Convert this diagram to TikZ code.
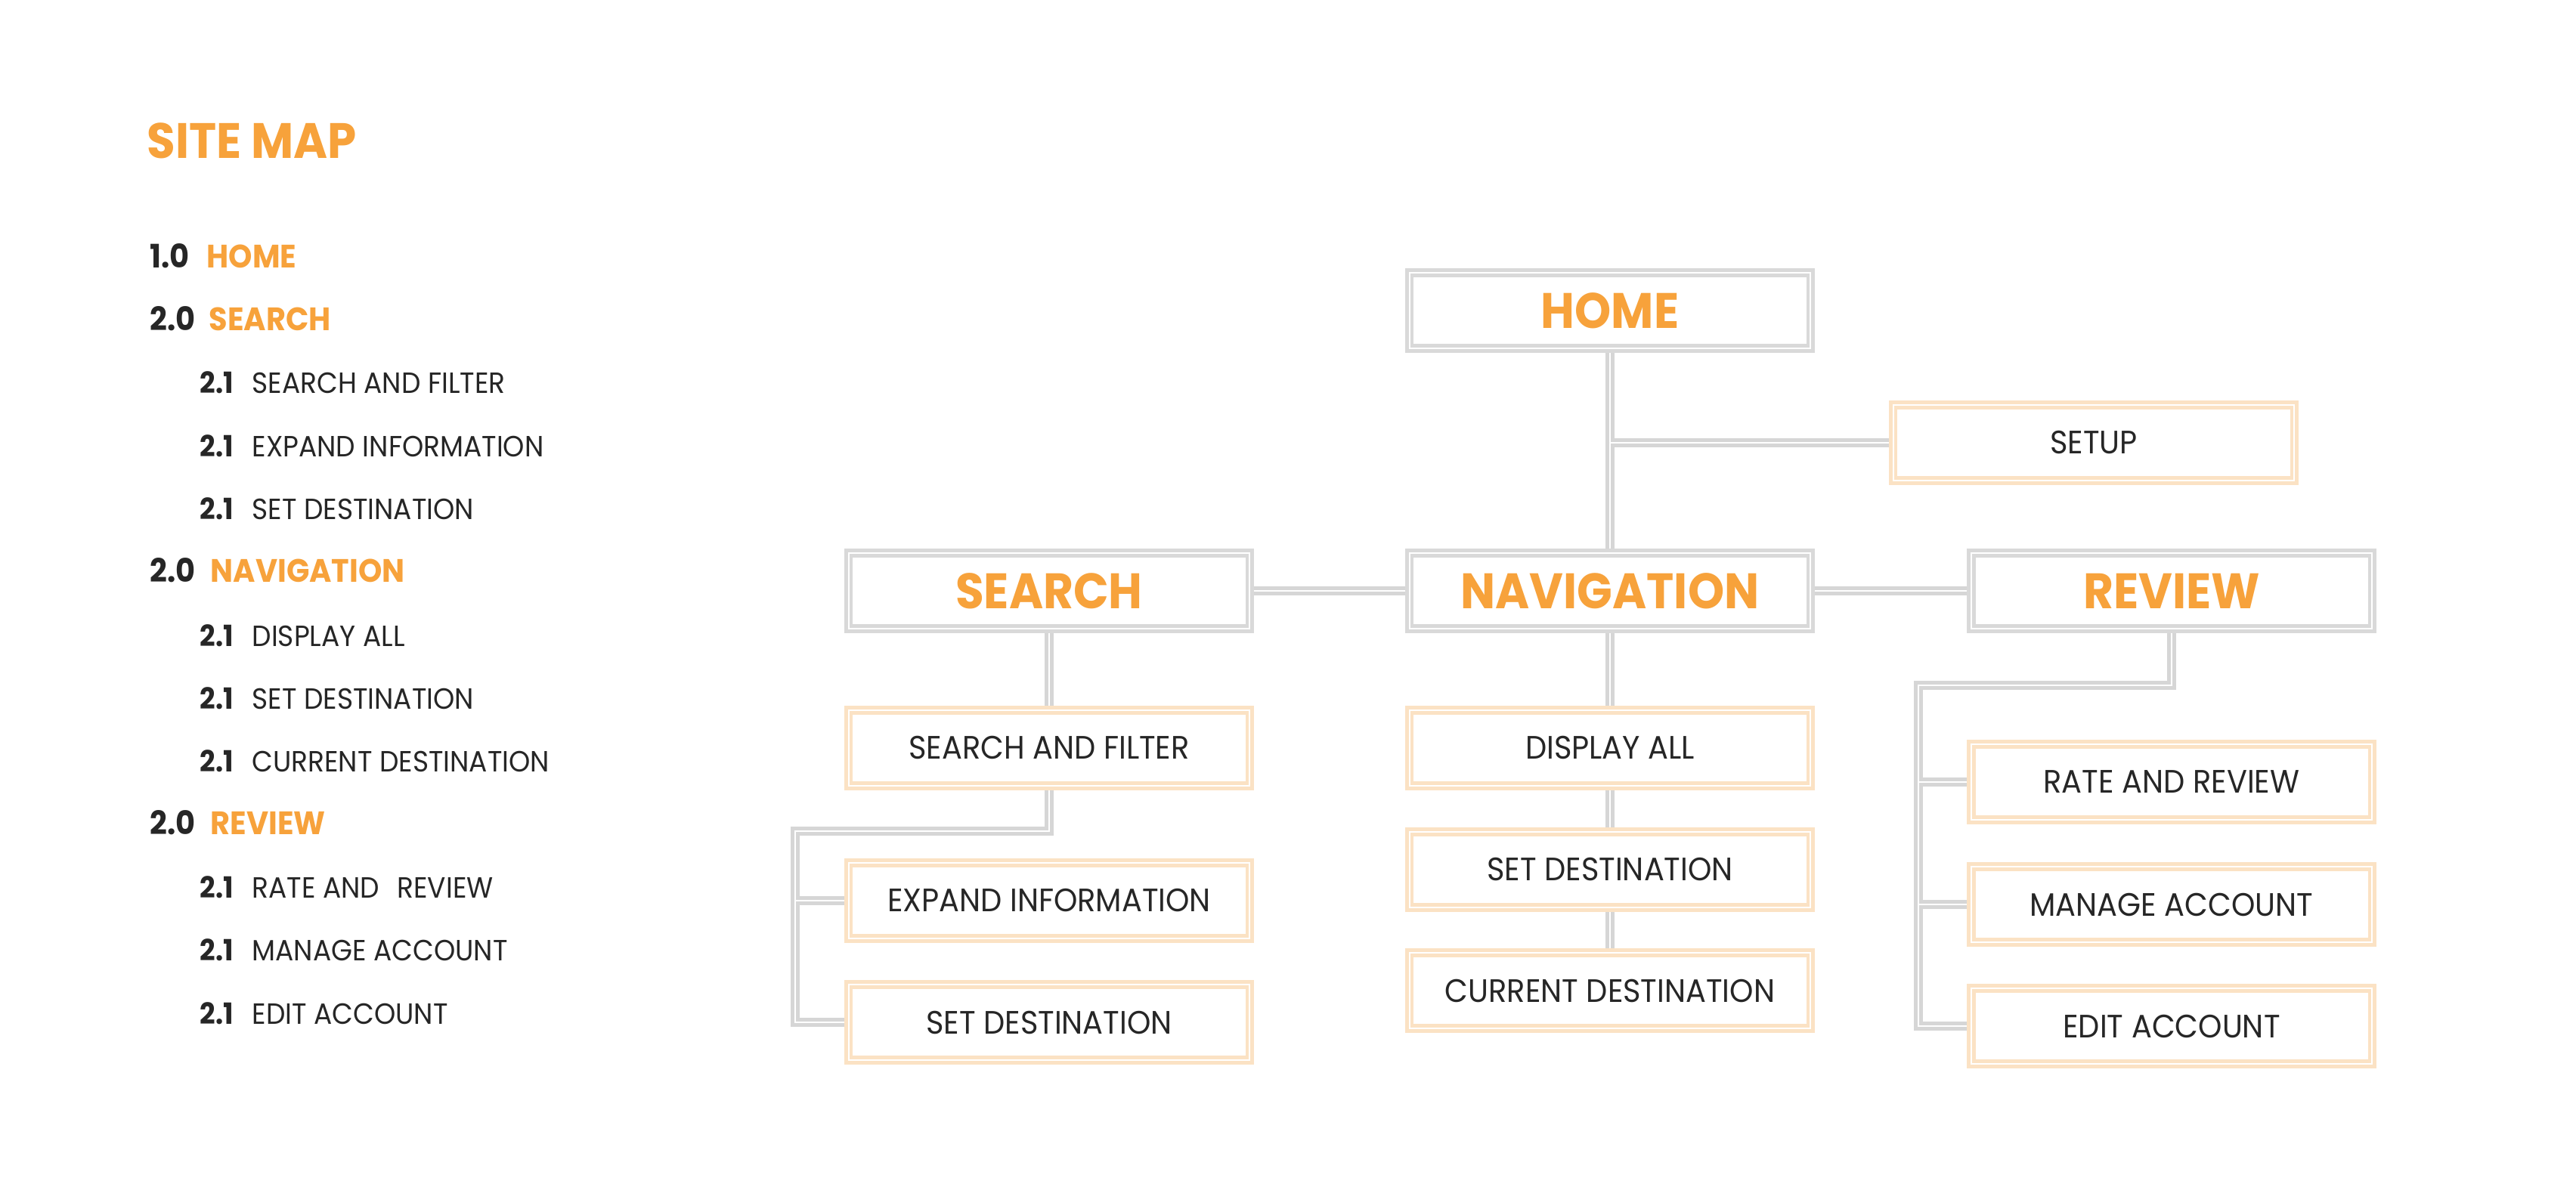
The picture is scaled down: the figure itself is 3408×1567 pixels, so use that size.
\documentclass[tikz,border=0pt]{standalone}
\usepackage{fontspec}
\setmainfont{Poppins}[FakeStretch=0.93]
\usetikzlibrary{backgrounds}
\definecolor{org}{HTML}{F7A23B}
\definecolor{ink}{HTML}{262626}
\definecolor{peach}{HTML}{FBE2C4}
\tikzset{
  mainbox/.style={draw=black!15, double=white, double distance=0.6pt, line width=1.3pt,
    fill=white, minimum width=5.3cm, minimum height=1.0cm, inner sep=0pt,
    text=org, font=\fontsize{18.75}{20}\selectfont\bfseries},
  subbox/.style={draw=peach, double=white, double distance=0.6pt, line width=1.3pt,
    fill=white, minimum width=5.3cm, minimum height=1.0cm, inner sep=0pt,
    text=ink, font=\fontsize{12.2}{14}\selectfont},
  wireout/.style={draw=black!16, line width=3.2pt},
  wirein/.style={draw=white, line width=0.8pt},
  num/.style={anchor=base west, inner sep=0pt, text=ink, font=\fontsize{12.2}{14}\selectfont\bfseries},
  head/.style={anchor=base west, inner sep=0pt, text=org, font=\fontsize{12.2}{14}\selectfont\bfseries},
  subnum/.style={anchor=base west, inner sep=0pt, text=ink, font=\fontsize{11}{12}\selectfont\bfseries},
  subtxt/.style={anchor=base west, inner sep=0pt, text=ink, font=\fontsize{11}{12}\selectfont},
}
\newcommand{\wires}[1]{%
  \draw[#1] (home.south) -- (nav.north);
  \draw[#1] (home.south |- setup.west) -- (setup.west);
  \draw[#1] (search.east) -- (nav.west);
  \draw[#1] (nav.east) -- (review.west);
  \draw[#1] (search.south) -- (sf.north);
  \draw[#1] (sf.south) |- (sj) |- (sd.west);
  \draw[#1] (sj |- ei.west) -- (ei.west);
  \draw[#1] (nav.south) -- (da.north);
  \draw[#1] (da.south) -- (sd2.north);
  \draw[#1] (sd2.south) -- (cd.north);
  \draw[#1] (review.south) |- (rj) |- (ea.west);
  \draw[#1] (rj |- rr.west) -- (rr.west);
  \draw[#1] (rj |- ma.west) -- (ma.west);
}
\begin{document}
\begin{tikzpicture}[x=0.01cm, y=-0.01cm]
\useasboundingbox (0,0) rectangle (3408,1567);

% title and list
\node[anchor=base west, inner sep=0pt, text=org, font=\fontsize{18.7}{21}\selectfont\bfseries] (title) at (194,210) {SITE MAP};

\node[num] (n1) at (198,355) {1.0}; \node[head] (h1) at (273,355) {HOME};
\node[num] (n2) at (198,438) {2.0}; \node[head] (h2) at (276,438) {SEARCH};
\node[subnum] (n3) at (264,521) {2.1}; \node[subtxt] (t3) at (333,521) {SEARCH AND FILTER};
\node[subnum] (n4) at (264,605) {2.1}; \node[subtxt] (t4) at (333,605) {EXPAND INFORMATION};
\node[subnum] (n5) at (264,688) {2.1}; \node[subtxt] (t5) at (333,688) {SET DESTINATION};
\node[num] (n6) at (198,771) {2.0}; \node[head] (h6) at (278,771) {NAVIGATION};
\node[subnum] (n7) at (264,855) {2.1}; \node[subtxt] (t7) at (333,855) {DISPLAY ALL};
\node[subnum] (n8) at (264,938) {2.1}; \node[subtxt] (t8) at (333,938) {SET DESTINATION};
\node[subnum] (n9) at (264,1021) {2.1}; \node[subtxt] (t9) at (333,1021) {CURRENT DESTINATION};
\node[num] (n10) at (198,1104) {2.0}; \node[head] (h10) at (278,1104) {REVIEW};
\node[subnum] (n11) at (264,1188) {2.1}; \node[subtxt] (t11) at (333,1188) {RATE AND\hspace{0.6em}REVIEW};
\node[subnum] (n12) at (264,1271) {2.1}; \node[subtxt] (t12) at (333,1271) {MANAGE ACCOUNT};
\node[subnum] (n13) at (264,1355) {2.1}; \node[subtxt] (t13) at (333,1355) {EDIT ACCOUNT};

% diagram boxes
\node[mainbox] (home) at (2130,411) {HOME};
\node[subbox] (setup) at (2770,586) {SETUP};
\node[mainbox] (search) at (1388,782) {SEARCH};
\node[mainbox] (nav) at (2130,782) {NAVIGATION};
\node[mainbox] (review) at (2873,782) {REVIEW};

\node[subbox] (sf) at (1388,990) {SEARCH AND FILTER};
\node[subbox] (ei) at (1388,1192) {EXPAND INFORMATION};
\node[subbox] (sd) at (1388,1353) {SET DESTINATION};

\node[subbox] (da) at (2130,990) {DISPLAY ALL};
\node[subbox] (sd2) at (2130,1151) {SET DESTINATION};
\node[subbox] (cd) at (2130,1311) {CURRENT DESTINATION};

\node[subbox] (rr) at (2873,1035) {RATE AND REVIEW};
\node[subbox] (ma) at (2873,1197) {MANAGE ACCOUNT};
\node[subbox] (ea) at (2873,1358) {EDIT ACCOUNT};

\coordinate (sj) at (1052,1100);
\coordinate (rj) at (2538,907);

\begin{pgfonlayer}{background}
\fill[white] (0,0) rectangle (3408,1567);
\wires{wireout}
\wires{wirein}
\end{pgfonlayer}
\end{tikzpicture}
\end{document}
